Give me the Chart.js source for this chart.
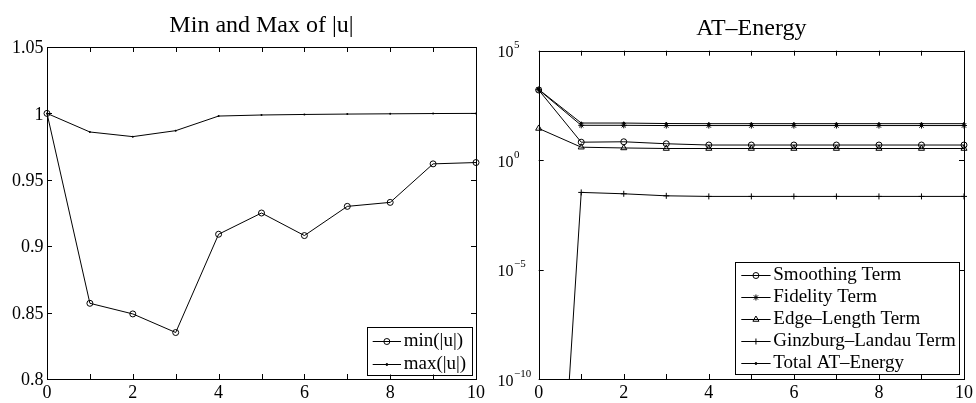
<!DOCTYPE html>
<html>
<head>
<meta charset="utf-8">
<script src="https://cdn.jsdelivr.net/npm/chart.js@4.4.1/dist/chart.umd.min.js"></script>
<style>
  html, body { margin: 0; padding: 0; background: #fff; }
  #wrap { position: relative; width: 976px; height: 403px; }
  canvas { position: absolute; top: 0; }
  #uChart { left: 0; }
  #energyChart { left: 488px; }
</style>
</head>
<body>
<div id="wrap">
  <canvas id="uChart" width="488" height="403"></canvas>
  <canvas id="energyChart" width="488" height="403"></canvas>
</div>
<script>
const SERIF = "'Liberation Serif', 'Times New Roman', serif";

// iteration index on the x axis
const iterations = [0, 1, 2, 3, 4, 5, 6, 7, 8, 9, 10];

// min and max of |u| per iteration
const minU = [1.000, 0.857, 0.849, 0.835, 0.909, 0.925, 0.908, 0.930, 0.933, 0.962, 0.963];
const maxU = [1.000, 0.986, 0.9825, 0.987, 0.998, 0.9988, 0.9992, 0.9995, 0.9997, 0.9999, 1.000];

// AT-energy and its terms per iteration
const smoothingTerm = [1600, 6.6, 6.9, 5.6, 4.9, 4.9, 4.9, 4.9, 4.9, 4.9, 4.9];
const fidelityTerm = [1650, 39, 39, 38, 38, 38, 38, 38, 38, 38, 38];
const edgeLengthTerm = [28, 3.9, 3.6, 3.4, 3.4, 3.4, 3.4, 3.4, 3.4, 3.4, 3.4];
const ginzburgTerm = [1e-32, 0.0335, 0.029, 0.0234, 0.022, 0.022, 0.022, 0.022, 0.022, 0.022, 0.022];
const totalEnergy = [1700, 49.5, 49.5, 47, 46.3, 46.3, 46.3, 46.3, 46.3, 46.3, 46.3];

// axis ticks
const xTicks = [0, 1, 2, 3, 4, 5, 6, 7, 8, 9, 10];
const uTicks = [0.8, 0.85, 0.9, 0.95, 1, 1.05];
const uTickLabels = ['0.8', '0.85', '0.9', '0.95', '1', '1.05'];
const energyExponents = [-10, -5, 0, 5];

const pts = arr => iterations.map((x, i) => ({ x: x, y: arr[i] }));
const HOLLOW = 'rgba(0,0,0,0)';

// box round the axes with inward tick marks on all four sides
const frame = {
  id: 'frame',
  afterDatasetsDraw(chart, args, o) {
    const { ctx, chartArea: a, scales } = chart;
    const len = 5;
    ctx.save();
    ctx.strokeStyle = '#000';
    ctx.lineWidth = 1;
    ctx.beginPath();
    o.xTicks.forEach(v => {
      const x = Math.round(scales.x.getPixelForValue(v)) + 0.5;
      ctx.moveTo(x, a.bottom); ctx.lineTo(x, a.bottom - len);
      ctx.moveTo(x, a.top); ctx.lineTo(x, a.top + len);
    });
    o.yTicks.forEach(v => {
      const y = Math.round(scales.y.getPixelForValue(v)) + 0.5;
      ctx.moveTo(a.left, y); ctx.lineTo(a.left + len, y);
      ctx.moveTo(a.right, y); ctx.lineTo(a.right - len, y);
    });
    ctx.stroke();
    const l = Math.round(a.left) + 0.5, t = Math.round(a.top) + 0.5;
    const r = Math.round(a.right) + 0.5, b = Math.round(a.bottom) + 0.5;
    ctx.strokeRect(l, t, r - l, b - t);
    ctx.restore();
  }
};

// title centred over the plot area
const plotTitle = {
  id: 'plotTitle',
  afterDraw(chart, args, o) {
    const { ctx, chartArea: a } = chart;
    ctx.save();
    ctx.fillStyle = '#000';
    ctx.font = '24px ' + SERIF;
    ctx.textAlign = 'center';
    ctx.textBaseline = 'alphabetic';
    ctx.fillText(o.text, (a.left + a.right) / 2, o.baseline);
    ctx.restore();
  }
};

// boxed legend in the lower right corner of the plot
const boxLegend = {
  id: 'boxLegend',
  afterDraw(chart, args, o) {
    const { ctx, chartArea: a } = chart;
    const x0 = a.right - o.inset - o.width;
    const y0 = a.bottom - o.inset - o.height;
    ctx.save();
    ctx.fillStyle = '#fff';
    ctx.fillRect(x0, y0, o.width, o.height);
    ctx.strokeStyle = '#000';
    ctx.lineWidth = 1;
    ctx.strokeRect(Math.round(x0) + 0.5, Math.round(y0) + 0.5, Math.round(o.width), Math.round(o.height));
    ctx.font = '19px ' + SERIF;
    ctx.textBaseline = 'middle';
    ctx.textAlign = 'left';
    chart.data.datasets.forEach((ds, i) => {
      const y = Math.round(y0 + o.first + i * o.step) + 0.5;
      ctx.strokeStyle = '#000';
      ctx.lineWidth = 1;
      ctx.beginPath();
      ctx.moveTo(x0 + o.lineFrom, y);
      ctx.lineTo(x0 + o.lineTo, y);
      ctx.stroke();
      ctx.fillStyle = ds.pointBackgroundColor;
      ctx.strokeStyle = '#000';
      Chart.helpers.drawPoint(ctx, {
        pointStyle: ds.pointStyle,
        radius: ds.pointRadius,
        borderWidth: 1,
        rotation: 0
      }, x0 + (o.lineFrom + o.lineTo) / 2, y);
      ctx.fillStyle = '#000';
      ctx.fillText(ds.label, x0 + o.textX, y);
    });
    ctx.restore();
  }
};

// 10^n labels on the log axis
const decadeLabels = {
  id: 'decadeLabels',
  afterDraw(chart, args, o) {
    const { ctx, scales } = chart;
    ctx.save();
    ctx.fillStyle = '#000';
    ctx.textBaseline = 'alphabetic';
    ctx.textAlign = 'left';
    o.exponents.forEach(e => {
      const y = scales.y.getPixelForValue(Math.pow(10, e));
      ctx.font = '16px ' + SERIF;
      ctx.fillText('10', o.x, y + 6.5);
      const w = ctx.measureText('10').width;
      ctx.font = '11px ' + SERIF;
      ctx.fillText(String(e).replace('-', '\u2212'), o.x + w + 0.5, y - 2.5);
    });
    ctx.restore();
  }
};

const xAxis = {
  type: 'linear',
  min: 0,
  max: 10,
  grid: { display: false, drawTicks: false },
  border: { display: false },
  afterBuildTicks: s => { s.ticks = xTicks.map(v => ({ value: v })); },
  afterFit: s => { s.height = 24; },
  ticks: {
    autoSkip: false,
    maxRotation: 0,
    padding: 3,
    color: '#000',
    font: { family: SERIF, size: 18 },
    callback: v => (v % 2 === 0 ? String(v) : '')
  }
};

new Chart(document.getElementById('uChart'), {
  type: 'line',
  data: {
    datasets: [
      {
        label: 'min(|u|)',
        data: pts(minU),
        borderColor: '#000',
        borderWidth: 1,
        pointStyle: 'circle',
        pointRadius: 3,
        pointBorderWidth: 1,
        pointBorderColor: '#000',
        pointBackgroundColor: HOLLOW,
        tension: 0,
        fill: false,
        clip: false
      },
      {
        label: 'max(|u|)',
        data: pts(maxU),
        borderColor: '#000',
        borderWidth: 1,
        pointStyle: 'circle',
        pointRadius: 1,
        pointBorderWidth: 0,
        pointBorderColor: '#000',
        pointBackgroundColor: '#000',
        tension: 0,
        fill: false,
        clip: false
      }
    ]
  },
  options: {
    responsive: false,
    animation: false,
    layout: { padding: { top: 47, right: 11, left: 0, bottom: 0 } },
    scales: {
      x: xAxis,
      y: {
        type: 'linear',
        min: 0.8,
        max: 1.05,
        grid: { display: false, drawTicks: false },
        border: { display: false },
        afterBuildTicks: s => { s.ticks = uTicks.map(v => ({ value: v })); },
        afterFit: s => { s.width = 47; },
        ticks: {
          padding: 3.5,
          labelOffset: 1.5,
          color: '#000',
          font: { family: SERIF, size: 18 },
          callback: v => uTickLabels[uTicks.findIndex(t => Math.abs(t - v) < 1e-9)]
        }
      }
    },
    plugins: {
      legend: { display: false },
      tooltip: { enabled: false },
      frame: { xTicks: xTicks, yTicks: uTicks },
      plotTitle: { text: 'Min and Max of |u|', baseline: 31.7 },
      boxLegend: { inset: 4.5, width: 104.5, height: 48, first: 14, step: 23.5, lineFrom: 5.7, lineTo: 34, textX: 36.7 }
    }
  },
  plugins: [frame, plotTitle, boxLegend]
});

const termClip = { left: 8, right: 8, top: 8, bottom: 0 };
const term = (label, arr, style, radius, fillColor) => ({
  label: label,
  data: pts(arr),
  borderColor: '#000',
  borderWidth: 1,
  pointStyle: style,
  pointRadius: radius,
  pointBorderWidth: 1,
  pointBorderColor: '#000',
  pointBackgroundColor: fillColor,
  tension: 0,
  fill: false,
  clip: termClip
});

new Chart(document.getElementById('energyChart'), {
  type: 'line',
  data: {
    datasets: [
      term('Smoothing Term', smoothingTerm, 'circle', 3, HOLLOW),
      term('Fidelity Term', fidelityTerm, 'star', 3, HOLLOW),
      term('Edge\u2013Length Term', edgeLengthTerm, 'triangle', 3.5, HOLLOW),
      term('Ginzburg\u2013Landau Term', ginzburgTerm, 'cross', 3, HOLLOW),
      term('Total AT\u2013Energy', totalEnergy, 'circle', 1, '#000')
    ]
  },
  options: {
    responsive: false,
    animation: false,
    layout: { padding: { top: 50.7, right: 11.3, left: 0, bottom: 0 } },
    scales: {
      x: xAxis,
      y: {
        type: 'logarithmic',
        min: 1e-10,
        max: 1e5,
        grid: { display: false, drawTicks: false },
        border: { display: false },
        afterFit: s => { s.width = 50.7; },
        ticks: { display: false }
      }
    },
    plugins: {
      legend: { display: false },
      tooltip: { enabled: false },
      frame: { xTicks: xTicks, yTicks: energyExponents.map(e => Math.pow(10, e)) },
      plotTitle: { text: 'AT\u2013Energy', baseline: 35 },
      decadeLabels: { exponents: energyExponents, x: 9.5 },
      boxLegend: { inset: 5, width: 224, height: 112.3, first: 13.6, step: 21.8, lineFrom: 6.3, lineTo: 35.6, textX: 38.3 }
    }
  },
  plugins: [frame, plotTitle, decadeLabels, boxLegend]
});
</script>
</body>
</html>
